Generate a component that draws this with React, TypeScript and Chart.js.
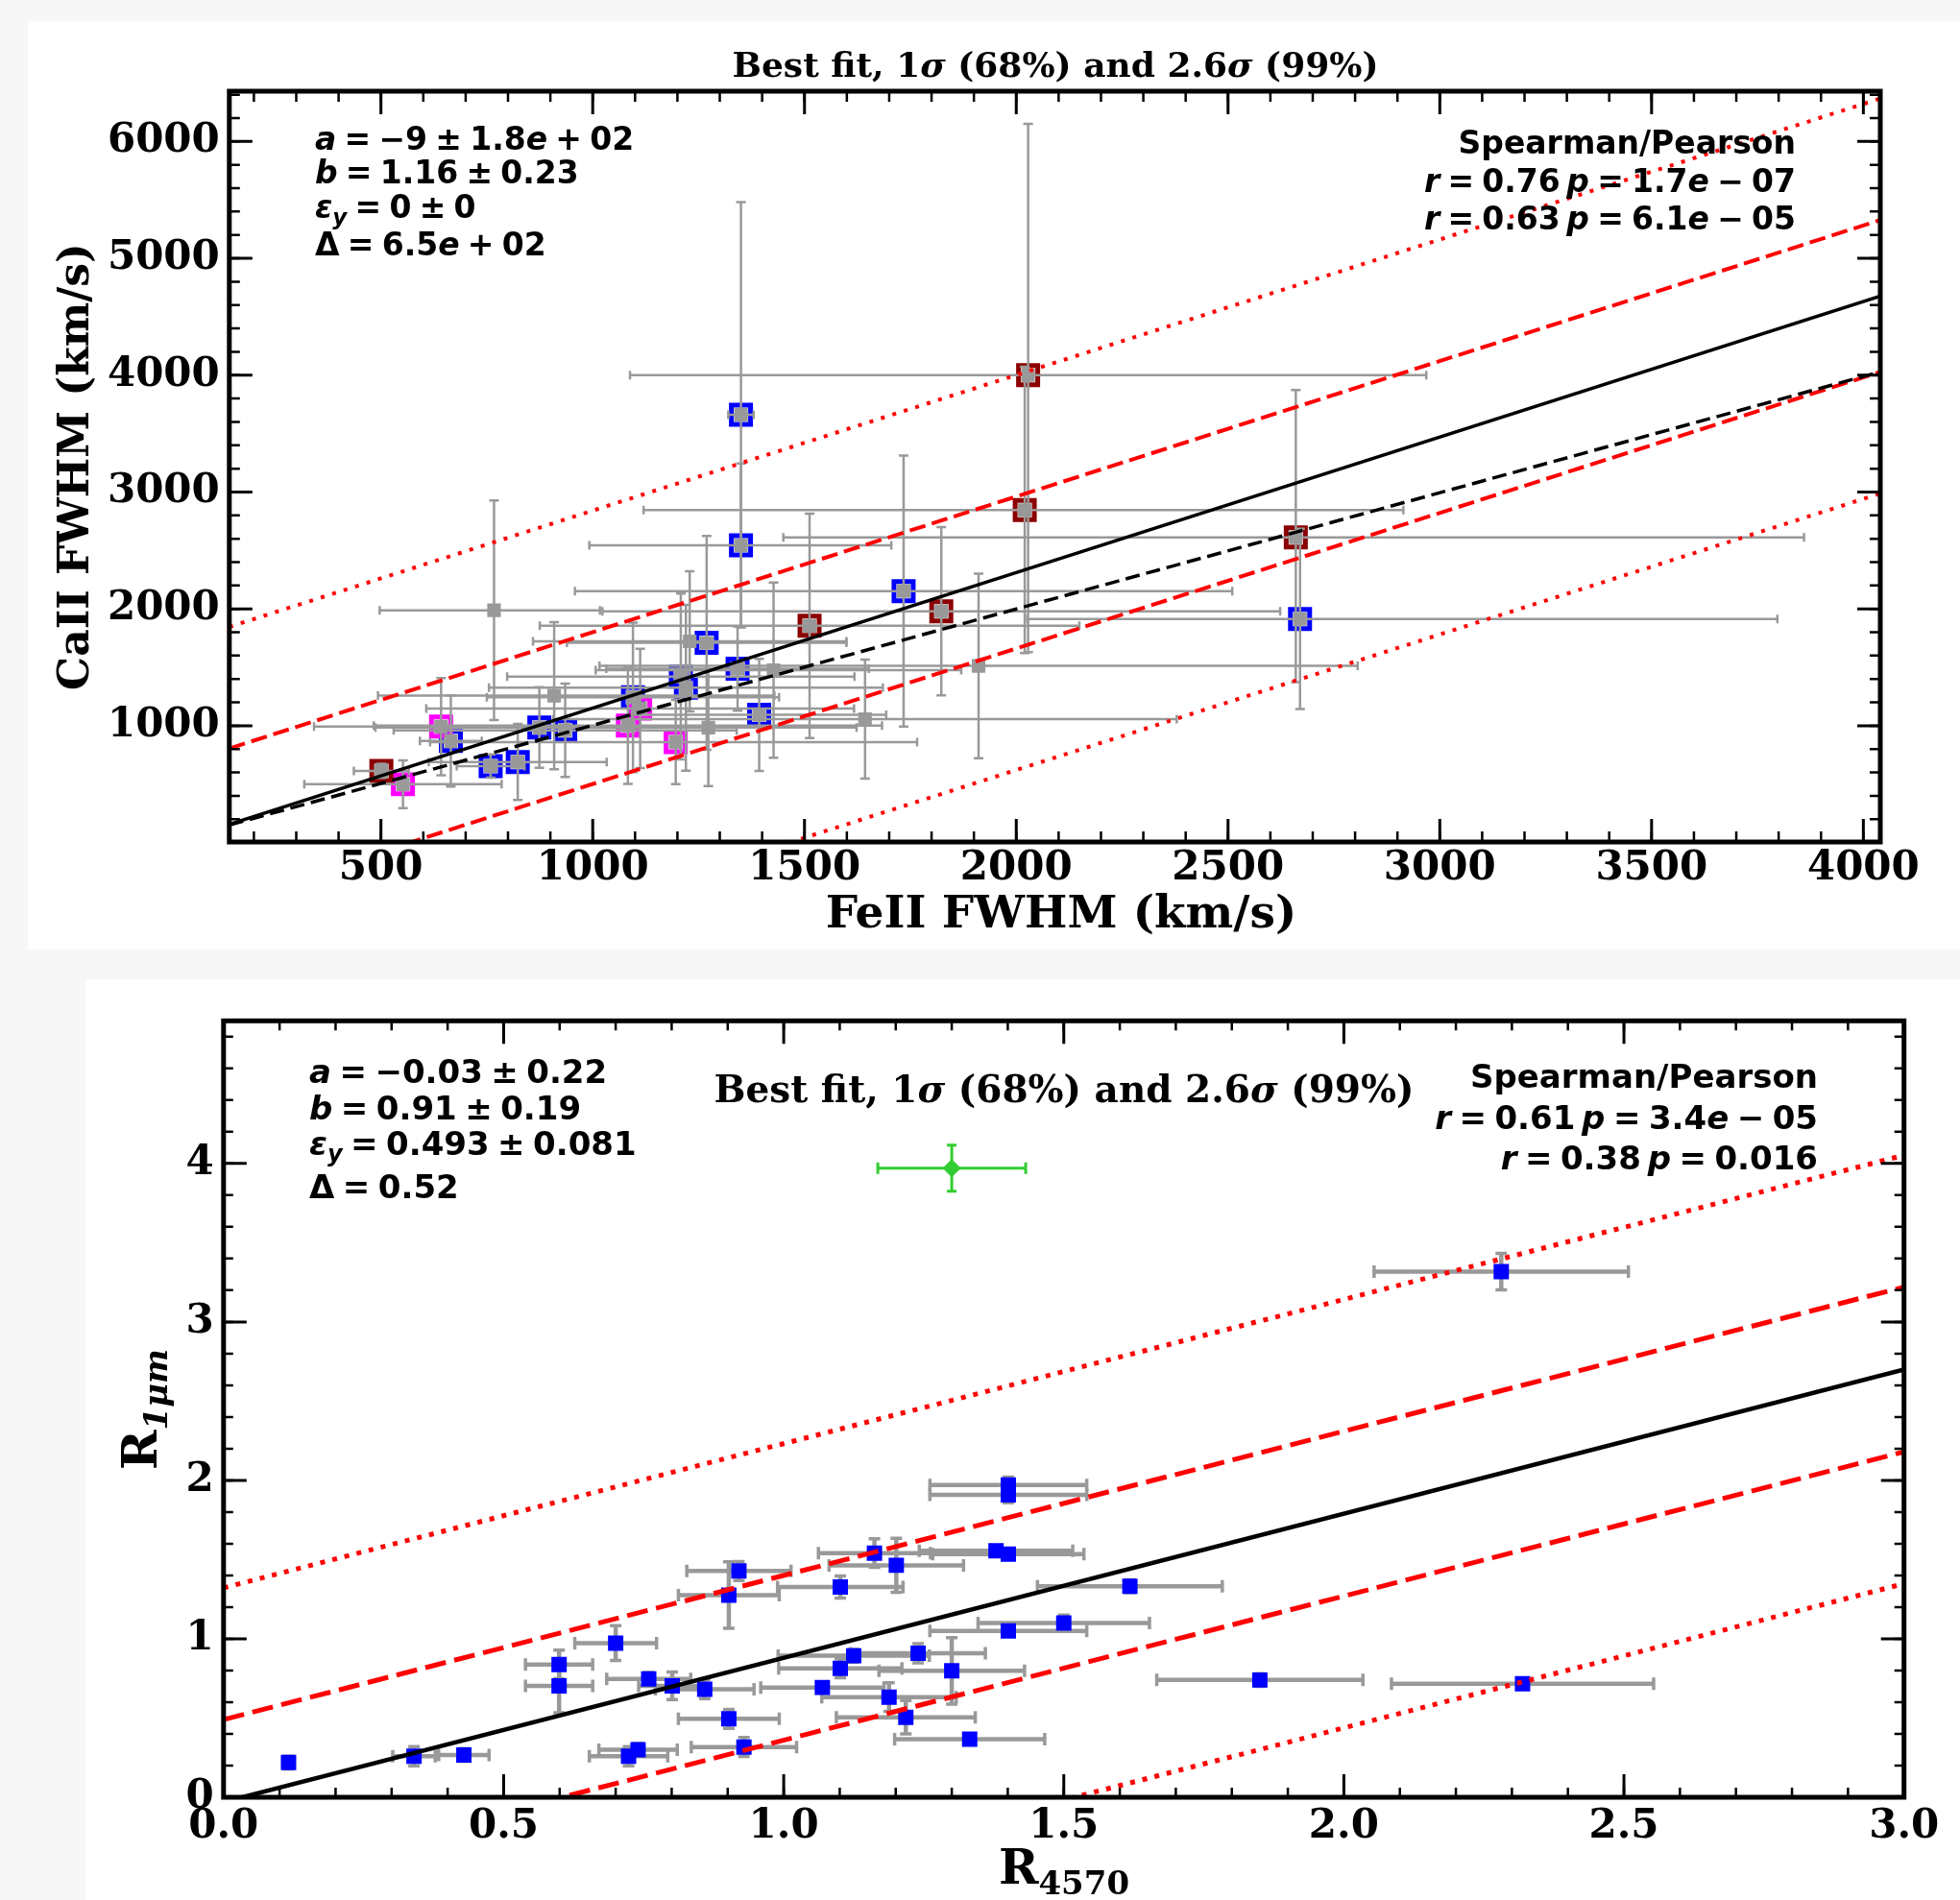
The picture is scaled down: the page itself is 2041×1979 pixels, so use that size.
import React, { useEffect, useRef } from 'react';
import { Chart, registerables } from 'chart.js';

Chart.register(...registerables);

// ================= Panel 1: CaII FWHM vs FeII FWHM =================
const feiiFwhm = [501, 552, 642, 665, 759, 823, 767, 874, 935, 909, 1083, 1095, 1112, 1196, 1208, 1220, 1229, 1269, 1273, 1342, 1350, 1350, 1393, 1427, 1512, 1643, 1734, 1823, 1911, 2028, 2020, 2660, 2670];
const caiiFwhm = [614, 499, 992, 869, 655, 690, 1988, 984, 961, 1257, 1002, 1243, 1148, 860, 1421, 1325, 1722, 1709, 984, 1489, 3662, 2544, 1093, 1476, 1855, 1057, 2152, 1979, 1512, 4000, 2846, 2612, 1914];
const feiiErrLo = [65, 233, 300, 73, 80, 210, 270, 387, 405, 416, 600, 345, 505, 580, 410, 465, 370, 330, 350, 310, 30, 358, 300, 420, 637, 736, 776, 800, 895, 940, 900, 1210, 644];
const feiiErrHi = [65, 233, 300, 73, 80, 210, 250, 387, 405, 520, 600, 345, 505, 570, 410, 465, 370, 330, 350, 310, 30, 355, 300, 443, 637, 736, 776, 800, 895, 940, 894, 1200, 1127];
const caiiErrLo = [60, 205, 415, 390, 100, 325, 940, 345, 400, 630, 500, 640, 510, 360, 710, 710, 600, 915, 500, 360, 1820, 700, 480, 750, 960, 510, 1160, 720, 790, 2370, 1225, 1240, 772];
const caiiErrHi = [60, 205, 415, 390, 100, 325, 940, 345, 400, 630, 500, 640, 510, 360, 710, 710, 600, 915, 500, 360, 1820, 700, 480, 750, 960, 510, 1160, 720, 790, 2150, 1225, 1260, 772];
const sampleGroup = ['darkred', 'magenta', 'magenta', 'blue', 'blue', 'blue', 'none', 'blue', 'blue', 'none', 'magenta', 'blue', 'magenta', 'magenta', 'blue', 'blue', 'none', 'blue', 'none', 'blue', 'blue', 'blue', 'blue', 'none', 'darkred', 'none', 'blue', 'darkred', 'none', 'darkred', 'darkred', 'darkred', 'blue'];

const fit1A = -9;
const fit1B = 1.16;
const fit1Delta = 650;
const altFit1A = 9;
const altFit1B = 0.995;
const wideSigma = 2.6;

const x1Range = [142, 4040];
const y1Range = [5, 6430];
const x1Ticks = [500, 1000, 1500, 2000, 2500, 3000, 3500, 4000];
const y1Ticks = [1000, 2000, 3000, 4000, 5000, 6000];

// ================= Panel 2: R_1um vs R_4570 =================
const r4570 = [1.401, 1.401, 1.162, 1.201, 1.379, 1.401, 0.920, 0.902, 1.101, 0.700, 0.599, 0.599, 0.759, 0.801, 0.859, 1.125, 1.240, 1.101, 1.300, 1.069, 1.188, 1.218, 0.902, 1.332, 0.929, 0.740, 0.723, 1.401, 1.500, 1.618, 1.850, 2.319, 2.281, 0.116, 0.340, 0.429];
const r1um = [1.971, 1.908, 1.541, 1.464, 1.555, 1.535, 1.428, 1.276, 1.327, 0.973, 0.838, 0.703, 0.747, 0.703, 0.682, 0.893, 0.909, 0.814, 0.798, 0.693, 0.632, 0.505, 0.495, 0.367, 0.317, 0.300, 0.259, 1.050, 1.100, 1.332, 0.740, 0.716, 3.317, 0.219, 0.259, 0.267];
const r4570Err = [0.14, 0.14, 0.10, 0.12, 0.137, 0.135, 0.093, 0.09, 0.112, 0.073, 0.06, 0.06, 0.075, 0.06, 0.088, 0.135, 0.12, 0.11, 0.13, 0.11, 0.12, 0.124, 0.09, 0.134, 0.094, 0.07, 0.07, 0.14, 0.153, 0.165, 0.184, 0.234, 0.227, 0.01, 0.038, 0.045];
const r1umErr = [0.05, 0.05, 0.09, 0.17, 0.03, 0.03, 0.06, 0.21, 0.07, 0.11, 0.09, 0.17, 0.04, 0.087, 0.06, 0.04, 0.06, 0.06, 0.21, 0.03, 0.09, 0.105, 0.06, 0.03, 0.06, 0.04, 0.06, 0.03, 0.05, 0.04, 0.04, 0.03, 0.115, 0.04, 0.06, 0.04];
const outlierR4570 = [1.30];
const outlierR1um = [3.97];
const outlierR4570Err = [0.132];
const outlierR1umErr = [0.145];

const fit2A = -0.03;
const fit2B = 0.91;
const fit2Delta = 0.52;

const x2Range = [0, 3];
const y2Range = [0, 4.9];
const x2Ticks = [0, 0.5, 1, 1.5, 2, 2.5, 3];
const x2TickLabels = ['0.0', '0.5', '1.0', '1.5', '2.0', '2.5', '3.0'];
const y2Ticks = [0, 1, 2, 3, 4];
const y2TickLabels = ['0', '1', '2', '3', '4'];

// ================= styles =================
const groupColors: Record<string, string> = { darkred: '#8b0000', magenta: '#ff00ff', blue: '#0000ff' };
const SANS = '"DejaVu Sans"';
const SERIF = '"DejaVu Serif"';
const SP = '\u2005';

type Seg = { t: string; it?: boolean; sub?: boolean };
type TextItem = { segs: Seg[]; x: number; y: number; size: number; family: string; align: 'left' | 'right' | 'center'; rotate?: boolean; subScale?: number };

function drawRich(ctx: CanvasRenderingContext2D, item: TextItem) {
  const { segs, size, family, align } = item;
  const subScale = item.subScale ?? 0.7;
  const fontFor = (s: Seg) => `${s.it ? 'italic ' : ''}bold ${s.sub ? Math.round(size * subScale) : size}px ${family}`;
  let total = 0;
  const widths = segs.map((s) => {
    ctx.font = fontFor(s);
    const w = ctx.measureText(s.t).width;
    total += w;
    return w;
  });
  let cx = align === 'left' ? 0 : align === 'right' ? -total : -total / 2;
  ctx.textAlign = 'left';
  ctx.textBaseline = 'alphabetic';
  segs.forEach((s, i) => {
    ctx.font = fontFor(s);
    ctx.fillText(s.t, cx, s.sub ? size * 0.22 : 0);
    cx += widths[i];
  });
}

function textPlugin(items: TextItem[]) {
  return {
    id: 'richText',
    afterDraw(chart: any) {
      const ctx = chart.ctx as CanvasRenderingContext2D;
      ctx.save();
      ctx.fillStyle = '#000';
      for (const it of items) {
        ctx.save();
        ctx.translate(it.x, it.y);
        if (it.rotate) ctx.rotate(-Math.PI / 2);
        drawRich(ctx, it);
        ctx.restore();
      }
      ctx.restore();
    },
  };
}

type TickCfg = { xMinor: number; yMinor: number; majorLen: number; minorLen: number; majorW: number; minorW: number; frameW: number };

function frameTicksPlugin(cfg: TickCfg) {
  return {
    id: 'frameTicks',
    afterDatasetsDraw(chart: any) {
      const ctx = chart.ctx as CanvasRenderingContext2D;
      const a = chart.chartArea;
      const sx = chart.scales.x;
      const sy = chart.scales.y;
      ctx.save();
      ctx.strokeStyle = '#000';
      ctx.lineCap = 'butt';
      const xTick = (v: number, len: number) => {
        const p = sx.getPixelForValue(v);
        ctx.moveTo(p, a.bottom);
        ctx.lineTo(p, a.bottom - len);
        ctx.moveTo(p, a.top);
        ctx.lineTo(p, a.top + len);
      };
      const yTick = (v: number, len: number) => {
        const p = sy.getPixelForValue(v);
        ctx.moveTo(a.left, p);
        ctx.lineTo(a.left + len, p);
        ctx.moveTo(a.right, p);
        ctx.lineTo(a.right - len, p);
      };
      ctx.lineWidth = cfg.minorW;
      ctx.beginPath();
      for (let k = Math.ceil(sx.min / cfg.xMinor - 1e-9); k * cfg.xMinor <= sx.max + 1e-9; k++) xTick(k * cfg.xMinor, cfg.minorLen);
      for (let k = Math.ceil(sy.min / cfg.yMinor - 1e-9); k * cfg.yMinor <= sy.max + 1e-9; k++) yTick(k * cfg.yMinor, cfg.minorLen);
      ctx.stroke();
      ctx.lineWidth = cfg.majorW;
      ctx.beginPath();
      sx.ticks.forEach((t: any) => xTick(t.value, cfg.majorLen));
      sy.ticks.forEach((t: any) => yTick(t.value, cfg.majorLen));
      ctx.stroke();
      ctx.lineWidth = cfg.frameW;
      ctx.strokeRect(a.left, a.top, a.right - a.left, a.bottom - a.top);
      ctx.restore();
    },
  };
}

type ErrStyle = { color: string; width: number; capW: number; capX: number; capY: number };

function drawErrorBars(chart: any, xs: number[], ys: number[], xLo: number[], xHi: number[], yLo: number[], yHi: number[], st: ErrStyle) {
  const ctx = chart.ctx as CanvasRenderingContext2D;
  const a = chart.chartArea;
  const sx = chart.scales.x;
  const sy = chart.scales.y;
  ctx.save();
  ctx.beginPath();
  ctx.rect(a.left, a.top, a.right - a.left, a.bottom - a.top);
  ctx.clip();
  ctx.strokeStyle = st.color;
  ctx.lineCap = 'butt';
  for (let i = 0; i < xs.length; i++) {
    const px = sx.getPixelForValue(xs[i]);
    const py = sy.getPixelForValue(ys[i]);
    const x0 = sx.getPixelForValue(xs[i] - xLo[i]);
    const x1 = sx.getPixelForValue(xs[i] + xHi[i]);
    const y0 = sy.getPixelForValue(ys[i] - yLo[i]);
    const y1 = sy.getPixelForValue(ys[i] + yHi[i]);
    ctx.lineWidth = st.width;
    ctx.beginPath();
    ctx.moveTo(x0, py);
    ctx.lineTo(x1, py);
    ctx.moveTo(px, y0);
    ctx.lineTo(px, y1);
    ctx.stroke();
    ctx.lineWidth = st.capW;
    ctx.beginPath();
    ctx.moveTo(x0, py - st.capX);
    ctx.lineTo(x0, py + st.capX);
    ctx.moveTo(x1, py - st.capX);
    ctx.lineTo(x1, py + st.capX);
    ctx.moveTo(px - st.capY, y0);
    ctx.lineTo(px + st.capY, y0);
    ctx.moveTo(px - st.capY, y1);
    ctx.lineTo(px + st.capY, y1);
    ctx.stroke();
  }
  ctx.restore();
}

function fitLine(range: number[], a: number, b: number, off: number) {
  return [
    { x: range[0], y: a + b * range[0] + off },
    { x: range[1], y: a + b * range[1] + off },
  ];
}

function lineDs(data: any[], color: string, width: number, dash: number[]) {
  return {
    type: 'line',
    data,
    borderColor: color,
    borderWidth: width,
    borderDash: dash,
    borderCapStyle: 'butt',
    pointRadius: 0,
    pointHoverRadius: 0,
    fill: false,
    tension: 0,
    order: 0,
  };
}

const tickFont = { family: SERIF, weight: 'bold' as const, size: 42 };

function eq(s: string) {
  return s.replace(/ /g, SP);
}

function buildTop(): any {
  const gray = '#999999';
  const groups = ['darkred', 'magenta', 'blue'];
  const colored = groups.map((g) => ({
    type: 'scatter',
    data: feiiFwhm.map((x, i) => ({ x, y: caiiFwhm[i], g: sampleGroup[i] })).filter((p) => p.g === g),
    pointStyle: 'rect',
    pointRadius: 14.14,
    pointHoverRadius: 14.14,
    pointBorderWidth: 5,
    pointBorderColor: groupColors[g],
    pointBackgroundColor: 'rgba(0,0,0,0)',
    order: 3,
  }));
  const grayDs = {
    type: 'scatter',
    data: feiiFwhm.map((x, i) => ({ x, y: caiiFwhm[i] })),
    pointStyle: 'rect',
    pointRadius: 10,
    pointHoverRadius: 10,
    pointBorderWidth: 0,
    pointBackgroundColor: gray,
    order: 2,
  };
  const datasets = [
    lineDs(fitLine(x1Range, fit1A, fit1B, 0), '#000', 3.5, []),
    lineDs(fitLine(x1Range, altFit1A, altFit1B, 0), '#000', 3.5, [15, 7]),
    lineDs(fitLine(x1Range, fit1A, fit1B, fit1Delta), '#ff0000', 4, [17, 7]),
    lineDs(fitLine(x1Range, fit1A, fit1B, -fit1Delta), '#ff0000', 4, [17, 7]),
    lineDs(fitLine(x1Range, fit1A, fit1B, wideSigma * fit1Delta), '#ff0000', 4, [4, 8.5]),
    lineDs(fitLine(x1Range, fit1A, fit1B, -wideSigma * fit1Delta), '#ff0000', 4, [4, 8.5]),
    grayDs,
    ...colored,
  ];
  const grayIndex = 6;
  const TS = 33;
  const texts: TextItem[] = [
    { segs: [{ t: 'Best fit, 1' }, { t: 'σ', it: true }, { t: ' (68%) and 2.6' }, { t: 'σ', it: true }, { t: ' (99%)' }], x: 1070, y: 58, size: 36, family: SERIF, align: 'center' },
    { segs: [{ t: 'a', it: true }, { t: eq(' = −9 ± 1.8') }, { t: 'e', it: true }, { t: eq(' + 02') }], x: 299, y: 134, size: TS, family: SANS, align: 'left' },
    { segs: [{ t: 'b', it: true }, { t: eq(' = 1.16 ± 0.23') }], x: 299, y: 169, size: TS, family: SANS, align: 'left' },
    { segs: [{ t: 'ε', it: true }, { t: 'y', it: true, sub: true }, { t: eq(' = 0 ± 0') }], x: 299, y: 205, size: TS, family: SANS, align: 'left' },
    { segs: [{ t: eq('Δ = 6.5') }, { t: 'e', it: true }, { t: eq(' + 02') }], x: 299, y: 244, size: TS, family: SANS, align: 'left' },
    { segs: [{ t: 'Spearman/Pearson' }], x: 1841, y: 138, size: TS, family: SANS, align: 'right' },
    { segs: [{ t: 'r', it: true }, { t: eq(' = 0.76') + '\u2009' }, { t: 'p', it: true }, { t: eq(' = 1.7') }, { t: 'e', it: true }, { t: eq(' − 07') }], x: 1841, y: 178, size: TS, family: SANS, align: 'right' },
    { segs: [{ t: 'r', it: true }, { t: eq(' = 0.63') + '\u2009' }, { t: 'p', it: true }, { t: eq(' = 6.1') }, { t: 'e', it: true }, { t: eq(' − 05') }], x: 1841, y: 217, size: TS, family: SANS, align: 'right' },
    { segs: [{ t: 'CaII FWHM (km/s)' }], x: 63, y: 464, size: 44, family: SERIF, align: 'center', rotate: true },
    { segs: [{ t: 'FeII FWHM (km/s)' }], x: 1076, y: 944, size: 47, family: SERIF, align: 'center' },
  ];
  return {
    type: 'scatter',
    data: { datasets },
    options: {
      animation: false,
      responsive: false,
      devicePixelRatio: 1,
      events: [],
      layout: { padding: { left: 0, top: 73, right: 83, bottom: 0 }, autoPadding: false },
      plugins: { legend: { display: false }, tooltip: { enabled: false }, title: { display: false } },
      scales: {
        x: {
          type: 'linear', min: x1Range[0], max: x1Range[1], bounds: 'data',
          grid: { display: false, drawTicks: false }, border: { display: false },
          ticks: { font: tickFont, color: '#000', padding: 3, autoSkip: false, maxRotation: 0, minRotation: 0, callback: (v: any) => String(v) },
          afterBuildTicks: (s: any) => { s.ticks = x1Ticks.map((v) => ({ value: v })); },
          afterFit: (s: any) => { s.height = 112; },
        },
        y: {
          type: 'linear', min: y1Range[0], max: y1Range[1], bounds: 'data',
          grid: { display: false, drawTicks: false }, border: { display: false },
          ticks: { font: tickFont, color: '#000', padding: 10, autoSkip: false, callback: (v: any) => String(v) },
          afterBuildTicks: (s: any) => { s.ticks = y1Ticks.map((v) => ({ value: v })); },
          afterFit: (s: any) => { s.width = 209.8; },
        },
      },
    },
    plugins: [
      {
        id: 'errBarsTop',
        beforeDatasetDraw(chart: any, args: any) {
          if (args.index !== grayIndex) return;
          drawErrorBars(chart, feiiFwhm, caiiFwhm, feiiErrLo, feiiErrHi, caiiErrLo, caiiErrHi, { color: gray, width: 2.5, capW: 2.5, capX: 4.5, capY: 5 });
        },
      },
      frameTicksPlugin({ xMinor: 100, yMinor: 200, majorLen: 24, minorLen: 11, majorW: 3, minorW: 2.5, frameW: 5 }),
      textPlugin(texts),
    ],
  };
}

function buildBottom(): any {
  const gray = '#999999';
  const green = '#32cd32';
  const datasets = [
    lineDs(fitLine(x2Range, fit2A, fit2B, 0), '#000', 4.5, []),
    lineDs(fitLine(x2Range, fit2A, fit2B, fit2Delta), '#ff0000', 5, [22, 9]),
    lineDs(fitLine(x2Range, fit2A, fit2B, -fit2Delta), '#ff0000', 5, [22, 9]),
    lineDs(fitLine(x2Range, fit2A, fit2B, wideSigma * fit2Delta), '#ff0000', 5, [5, 8]),
    lineDs(fitLine(x2Range, fit2A, fit2B, -wideSigma * fit2Delta), '#ff0000', 5, [5, 8]),
    {
      type: 'scatter',
      data: r4570.map((x, i) => ({ x, y: r1um[i] })),
      pointStyle: 'rect', pointRadius: 11.3, pointHoverRadius: 11.3, pointBorderWidth: 0,
      pointBackgroundColor: '#0000ff', order: 2,
    },
    {
      type: 'scatter',
      data: outlierR4570.map((x, i) => ({ x, y: outlierR1um[i] })),
      pointStyle: 'rectRot', pointRadius: 9.5, pointHoverRadius: 9.5, pointBorderWidth: 0,
      pointBackgroundColor: green, order: 2,
    },
  ];
  const blueIndex = 5;
  const greenIndex = 6;
  const TS = 34;
  const texts: TextItem[] = [
    { segs: [{ t: 'Best fit, 1' }, { t: 'σ', it: true }, { t: ' (68%) and 2.6' }, { t: 'σ', it: true }, { t: ' (99%)' }], x: 1019, y: 128, size: 39, family: SERIF, align: 'center' },
    { segs: [{ t: 'a', it: true }, { t: eq(' = −0.03 ± 0.22') }], x: 233, y: 108, size: TS, family: SANS, align: 'left' },
    { segs: [{ t: 'b', it: true }, { t: eq(' = 0.91 ± 0.19') }], x: 233, y: 146, size: TS, family: SANS, align: 'left' },
    { segs: [{ t: 'ε', it: true }, { t: 'y', it: true, sub: true }, { t: eq(' = 0.493 ± 0.081') }], x: 233, y: 183, size: TS, family: SANS, align: 'left' },
    { segs: [{ t: eq('Δ = 0.52') }], x: 233, y: 228, size: TS, family: SANS, align: 'left' },
    { segs: [{ t: 'Spearman/Pearson' }], x: 1804, y: 113, size: TS, family: SANS, align: 'right' },
    { segs: [{ t: 'r', it: true }, { t: eq(' = 0.61') + '\u2009' }, { t: 'p', it: true }, { t: eq(' = 3.4') }, { t: 'e', it: true }, { t: eq(' − 05') }], x: 1804, y: 156, size: TS, family: SANS, align: 'right' },
    { segs: [{ t: 'r', it: true }, { t: eq(' = 0.38') + '\u2009' }, { t: 'p', it: true }, { t: eq(' = 0.016') }], x: 1804, y: 198, size: TS, family: SANS, align: 'right' },
    { segs: [{ t: 'R' }, { t: '1μm', it: true, sub: true }], x: 74, y: 448, size: 50, family: SERIF, align: 'center', rotate: true, subScale: 0.68 },
    { segs: [{ t: 'R' }, { t: '4570', sub: true }], x: 1019, y: 942, size: 50, family: SERIF, align: 'center', subScale: 0.68 },
  ];
  return {
    type: 'scatter',
    data: { datasets },
    options: {
      animation: false,
      responsive: false,
      devicePixelRatio: 1,
      events: [],
      layout: { padding: { left: 0, top: 43.3, right: 58.3, bottom: 0 }, autoPadding: false },
      plugins: { legend: { display: false }, tooltip: { enabled: false }, title: { display: false } },
      scales: {
        x: {
          type: 'linear', min: x2Range[0], max: x2Range[1], bounds: 'data',
          grid: { display: false, drawTicks: false }, border: { display: false },
          ticks: { font: tickFont, color: '#000', padding: 6, autoSkip: false, maxRotation: 0, minRotation: 0, callback: (_v: any, i: number) => x2TickLabels[i] },
          afterBuildTicks: (s: any) => { s.ticks = x2Ticks.map((v) => ({ value: v })); },
          afterFit: (s: any) => { s.height = 107; },
        },
        y: {
          type: 'linear', min: y2Range[0], max: y2Range[1], bounds: 'data',
          grid: { display: false, drawTicks: false }, border: { display: false },
          ticks: { font: tickFont, color: '#000', padding: 10, autoSkip: false, callback: (_v: any, i: number) => y2TickLabels[i] },
          afterBuildTicks: (s: any) => { s.ticks = y2Ticks.map((v) => ({ value: v })); },
          afterFit: (s: any) => { s.width = 143.8; },
        },
      },
    },
    plugins: [
      {
        id: 'errBarsBottom',
        beforeDatasetDraw(chart: any, args: any) {
          if (args.index === blueIndex) {
            drawErrorBars(chart, r4570, r1um, r4570Err, r4570Err, r1umErr, r1umErr, { color: gray, width: 4.5, capW: 3.5, capX: 6.5, capY: 6 });
          } else if (args.index === greenIndex) {
            drawErrorBars(chart, outlierR4570, outlierR1um, outlierR4570Err, outlierR4570Err, outlierR1umErr, outlierR1umErr, { color: green, width: 3, capW: 3, capX: 6, capY: 5 });
          }
        },
      },
      frameTicksPlugin({ xMinor: 0.1, yMinor: 0.2, majorLen: 24, minorLen: 10, majorW: 3, minorW: 2.5, frameW: 5 }),
      textPlugin(texts),
    ],
  };
}

function Panel(props: { left: number; top: number; width: number; height: number; build: () => any }) {
  const ref = useRef<HTMLCanvasElement>(null);
  useEffect(() => {
    const chart = new Chart(ref.current as HTMLCanvasElement, props.build());
    return () => chart.destroy();
  }, []);
  return (
    <canvas
      ref={ref}
      width={props.width}
      height={props.height}
      style={{ position: 'absolute', left: props.left, top: props.top, width: props.width, height: props.height, background: '#ffffff' }}
    />
  );
}

export default function App() {
  return (
    <div style={{ position: 'absolute', left: 0, top: 0, width: 2041, height: 1979, background: '#f7f7f7', overflow: 'hidden' }}>
      <Panel left={29} top={22} width={2012} height={967} build={buildTop} />
      <Panel left={89} top={1020} width={1952} height={959} build={buildBottom} />
    </div>
  );
}
